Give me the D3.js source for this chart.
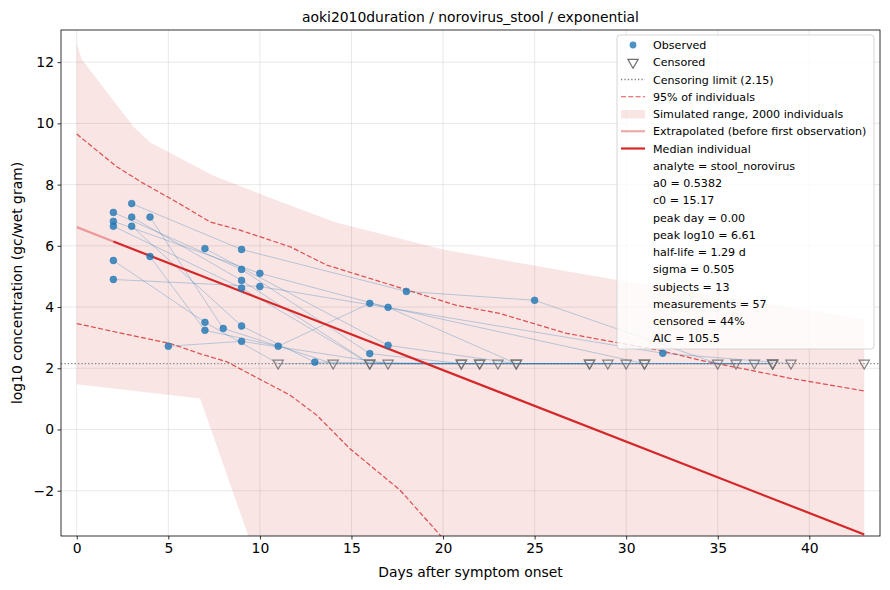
<!DOCTYPE html>
<html>
<head>
<meta charset="utf-8">
<script src="https://cdn.jsdelivr.net/npm/d3@7"></script>
<style>
	body { margin: 0; background: #fff; }
	text { font-family: "DejaVu Sans", sans-serif; }
</style>
</head>
<body>
<svg id="chart" width="890" height="590"></svg>
<script>

// ---- data ----
var xTicks = [0, 5, 10, 15, 20, 25, 30, 35, 40];
var yTicks = [-2, 0, 2, 4, 6, 8, 10, 12];

var censorLimit = 2.15;

// median individual: peak log10 6.61 at day 0, half-life 1.29 d
var medianDays = [0, 2, 43];
var medianVals = [6.61, 6.14, -3.43];

// simulated range (upper / lower edge)
var bandUpperDays = [0, 0.28, 3.1, 4.0, 7.37, 9.47, 10.9, 14.2, 20.0, 29.5, 43];
var bandUpperVals = [12.6, 12.09, 9.89, 9.38, 8.31, 7.82, 7.49, 6.75, 5.88, 4.88, 3.6];
var bandLowerDays = [0, 6.74, 12, 43];
var bandLowerVals = [1.48, 1.01, -7.97, -20];

// 95% of individuals
var hiDays = [0, 2.19, 3.64, 5.28, 7.28, 8.92, 11.65, 13.65, 16.9, 20.7, 23.1, 26.75, 31.85, 34, 38.9, 43];
var hiVals = [9.65, 8.58, 8.04, 7.49, 6.78, 6.51, 5.97, 5.37, 4.77, 4.06, 3.79, 3.14, 2.58, 2.27, 1.68, 1.26];
var loDays = [0, 2, 5.1, 6.7, 8.2, 10, 11.65, 13.1, 14.9, 17.65, 19.84, 21];
var loVals = [3.46, 3.2, 2.81, 2.48, 2.21, 1.64, 1.12, 0.47, -0.62, -1.98, -3.45, -4.3];

// per-subject measurements, null value = censored (below limit)
var subjects = [
	{ days: [3, 9, 18, 25, 35, 38], vals: [7.38, 5.88, 4.51, 4.22, null, null] },
	{ days: [2, 9, 16, 21, 28], vals: [7.09, 5.23, 2.48, null, null] },
	{ days: [2, 10, 17, 24, 36], vals: [6.80, 5.10, 3.99, null, null] },
	{ days: [2, 9, 16, 29], vals: [6.64, 4.62, null, null] },
	{ days: [2, 7, 11, 22], vals: [5.52, 3.50, null, null] },
	{ days: [2, 10, 32, 39], vals: [4.90, 4.67, 2.49, null] },
	{ days: [3, 9, 16, 23], vals: [6.94, 4.87, null, null] },
	{ days: [3, 9, 13, 22, 28, 38], vals: [6.64, 3.38, 2.20, null, null, null] },
	{ days: [4, 8, 14, 21, 30], vals: [6.94, 3.30, null, null, null] },
	{ days: [4, 7, 11, 16, 31, 38], vals: [5.65, 3.24, 2.72, 4.12, null, null] },
	{ days: [5, 9, 17, 37], vals: [2.72, 2.88, null, null] },
	{ days: [7, 17, 24, 31], vals: [5.91, 2.75, null, null] },
	{ days: [43], vals: [null] }
];

var legendLabels = [
	"Observed",
	"Censored",
	"Censoring limit (2.15)",
	"95% of individuals",
	"Simulated range, 2000 individuals",
	"Extrapolated (before first observation)",
	"Median individual"
];
var statLines = [
	"analyte = stool_norovirus",
	"a0 = 0.5382",
	"c0 = 15.17",
	"peak day = 0.00",
	"peak log10 = 6.61",
	"half-life = 1.29 d",
	"sigma = 0.505",
	"subjects = 13",
	"measurements = 57",
	"censored = 44%",
	"AIC = 105.5"
];

// ---- layout ----
var red = "#d62728";
var blue = "#1f77b4";
var dash = "5,2.3";
var plot = { left: 61, right: 880, top: 30, bottom: 536 };

var svg = d3.select("#chart");

var x = d3.scaleLinear().domain([-0.86, 43.86]).range([plot.left, plot.right]);
var y = d3.scaleLinear().domain([-3.48, 13.05]).range([plot.bottom, plot.top]);

function pairs(days, vals)
{
	return days.map(function(d, i) { return [d, vals[i]]; });
}

svg.append("defs").append("clipPath").attr("id", "plotclip")
	.append("rect")
	.attr("x", plot.left).attr("y", plot.top)
	.attr("width", plot.right - plot.left).attr("height", plot.bottom - plot.top);

// grid
var grid = svg.append("g");
grid.selectAll("line.gx").data(xTicks).enter().append("line")
	.attr("x1", function(d) { return x(d); }).attr("x2", function(d) { return x(d); })
	.attr("y1", plot.top).attr("y2", plot.bottom)
	.attr("stroke", "#b0b0b0").attr("stroke-opacity", 0.35).attr("stroke-width", 0.8);
grid.selectAll("line.gy").data(yTicks).enter().append("line")
	.attr("y1", function(d) { return y(d); }).attr("y2", function(d) { return y(d); })
	.attr("x1", plot.left).attr("x2", plot.right)
	.attr("stroke", "#b0b0b0").attr("stroke-opacity", 0.35).attr("stroke-width", 0.8);

var g = svg.append("g").attr("clip-path", "url(#plotclip)");

var line = d3.line()
	.x(function(d) { return x(d[0]); })
	.y(function(d) { return y(d[1]); });

// band: upper edge forward, lower edge back
var bandPts = pairs(bandUpperDays, bandUpperVals)
	.concat(pairs(bandLowerDays, bandLowerVals).reverse());
g.append("path")
	.attr("d", line(bandPts) + "Z")
	.attr("fill", red).attr("fill-opacity", 0.12).attr("stroke", "none");

// 95% lines
[pairs(hiDays, hiVals), pairs(loDays, loVals)].forEach(function(pts)
{
	g.append("path").attr("d", line(pts))
		.attr("fill", "none").attr("stroke", red).attr("stroke-opacity", 0.8)
		.attr("stroke-width", 1.2).attr("stroke-dasharray", dash);
});

// censoring limit
g.append("line")
	.attr("x1", plot.left).attr("x2", plot.right)
	.attr("y1", y(censorLimit)).attr("y2", y(censorLimit))
	.attr("stroke", "#808080").attr("stroke-width", 1.3).attr("stroke-dasharray", "1.3,2.1");

// subject trajectories
subjects.forEach(function(s)
{
	var pts = s.days.map(function(d, i) { return [d, s.vals[i] == null ? censorLimit : s.vals[i]]; });
	g.append("path").attr("d", line(pts))
		.attr("fill", "none").attr("stroke", blue).attr("stroke-opacity", 0.3)
		.attr("stroke-width", 1);
});

// median individual
g.append("path").attr("d", line(pairs(medianDays.slice(0, 2), medianVals.slice(0, 2))))
	.attr("fill", "none").attr("stroke", red).attr("stroke-opacity", 0.4).attr("stroke-width", 2.2);
g.append("path").attr("d", line(pairs(medianDays.slice(1), medianVals.slice(1))))
	.attr("fill", "none").attr("stroke", red).attr("stroke-width", 2.2);

// observed points and censored markers
var observed = [], censored = [];
subjects.forEach(function(s)
{
	s.days.forEach(function(d, i)
	{
		if (s.vals[i] == null) censored.push([d, censorLimit]);
		else observed.push([d, s.vals[i]]);
	});
});

var tri = d3.symbol().type(d3.symbolTriangle).size(46);

g.selectAll("path.cens").data(censored).enter().append("path")
	.attr("d", tri)
	.attr("transform", function(d) { return "translate(" + x(d[0]) + "," + (y(d[1]) - 0.5) + ") rotate(180)"; })
	.attr("fill", "none")
	.attr("stroke", "#6e6e6e").attr("stroke-opacity", 0.85).attr("stroke-width", 1.2);

g.selectAll("circle.obs").data(observed).enter().append("circle")
	.attr("cx", function(d) { return x(d[0]); })
	.attr("cy", function(d) { return y(d[1]); })
	.attr("r", 3.4)
	.attr("fill", blue).attr("fill-opacity", 0.8)
	.attr("stroke", blue).attr("stroke-opacity", 0.9).attr("stroke-width", 0.6);

// axes
var xAxis = svg.append("g").attr("transform", "translate(0," + plot.bottom + ")")
	.call(d3.axisBottom(x).tickValues(xTicks).tickSize(3.5).tickPadding(3.5).tickFormat(d3.format("d")));
var yAxis = svg.append("g").attr("transform", "translate(" + plot.left + ",0)")
	.call(d3.axisLeft(y).tickValues(yTicks).tickSize(3.5).tickPadding(3.5)
		.tickFormat(function(d) { return d < 0 ? "\u2212" + Math.abs(d) : d; }));
[xAxis, yAxis].forEach(function(a)
{
	a.select(".domain").remove();
	a.selectAll("text").attr("font-size", 13.9).attr("fill", "#000").attr("font-family", "DejaVu Sans");
	a.selectAll("line").attr("stroke", "#000").attr("stroke-width", 0.8);
});

svg.append("rect")
	.attr("x", plot.left).attr("y", plot.top)
	.attr("width", plot.right - plot.left).attr("height", plot.bottom - plot.top)
	.attr("fill", "none").attr("stroke", "#000").attr("stroke-width", 0.8);

// labels
svg.append("text").attr("x", (plot.left + plot.right) / 2).attr("y", 22)
	.attr("text-anchor", "middle").attr("font-size", 13.9)
	.text("aoki2010duration / norovirus_stool / exponential");
svg.append("text").attr("x", (plot.left + plot.right) / 2).attr("y", 577)
	.attr("text-anchor", "middle").attr("font-size", 13.9)
	.text("Days after symptom onset");
svg.append("text")
	.attr("transform", "translate(22," + ((plot.top + plot.bottom) / 2) + ") rotate(-90)")
	.attr("text-anchor", "middle").attr("font-size", 13.9)
	.text("log10 concentration (gc/wet gram)");

// legend
var lg = svg.append("g").attr("transform", "translate(617,35)");
var rowH = 17.25;
lg.append("rect")
	.attr("x", 0).attr("y", 0).attr("width", 257).attr("height", 314).attr("rx", 3)
	.attr("fill", "#fff").attr("fill-opacity", 0.8)
	.attr("stroke", "#ccc").attr("stroke-width", 0.8);

function rowY(i) { return 10 + i * rowH; }

var allText = legendLabels.concat(statLines);
lg.selectAll("text.lab").data(allText).enter().append("text")
	.attr("x", 36)
	.attr("y", function(d, i) { return rowY(i) + 4; })
	.attr("font-size", 11.1)
	.text(function(d) { return d; });

lg.append("circle").attr("cx", 16).attr("cy", rowY(0)).attr("r", 3.4)
	.attr("fill", blue).attr("fill-opacity", 0.8);
lg.append("path").attr("d", tri)
	.attr("transform", "translate(16," + rowY(1) + ") rotate(180)")
	.attr("fill", "none").attr("stroke", "#6e6e6e").attr("stroke-width", 1.2);
lg.append("line").attr("x1", 4).attr("x2", 28).attr("y1", rowY(2)).attr("y2", rowY(2))
	.attr("stroke", "#808080").attr("stroke-width", 1.3).attr("stroke-dasharray", "1.3,2.1");
lg.append("line").attr("x1", 4).attr("x2", 28).attr("y1", rowY(3)).attr("y2", rowY(3))
	.attr("stroke", red).attr("stroke-opacity", 0.8).attr("stroke-width", 1.2).attr("stroke-dasharray", dash);
lg.append("rect").attr("x", 4).attr("y", rowY(4) - 4).attr("width", 24).attr("height", 8.5)
	.attr("fill", red).attr("fill-opacity", 0.12);
lg.append("line").attr("x1", 4).attr("x2", 28).attr("y1", rowY(5)).attr("y2", rowY(5))
	.attr("stroke", red).attr("stroke-opacity", 0.4).attr("stroke-width", 2.2);
lg.append("line").attr("x1", 4).attr("x2", 28).attr("y1", rowY(6)).attr("y2", rowY(6))
	.attr("stroke", red).attr("stroke-width", 2.2);

</script>
</body>
</html>
